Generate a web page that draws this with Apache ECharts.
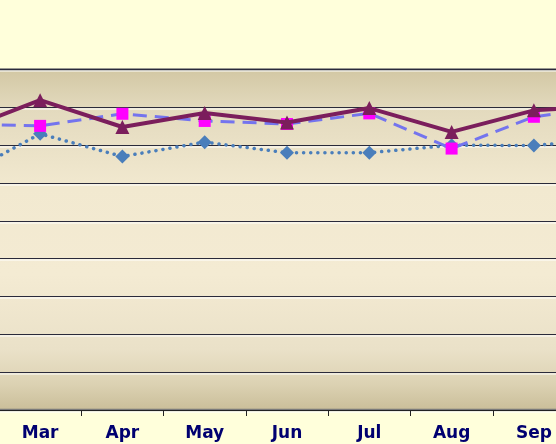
<!DOCTYPE html>
<html>
<head>
<meta charset="utf-8">
<script src="https://cdn.jsdelivr.net/npm/echarts@6/dist/echarts.min.js"></script>
<style>
html,body{margin:0;padding:0;background:#FFFFDB;}
#chart{width:556px;height:444px;}
</style>
</head>
<body>
<div id="chart"></div>
<script>
const months = ['Feb','Mar','Apr','May','Jun','Jul','Aug','Sep','Oct'];
const seriesA = [73.5, 81.9, 74.8, 78.5, 76.0, 79.8, 73.5, 79.2, 80.6];
const seriesB = [75.6, 75.1, 78.3, 76.4, 75.6, 78.4, 69.1, 77.5, 80.5];
const seriesC = [61.2, 73.0, 67.0, 70.8, 68.0, 68.0, 70.0, 69.9, 71.8];

const chart = echarts.init(document.getElementById('chart'), null, {renderer:'canvas'});
chart.setOption({
  backgroundColor: '#FFFFDB',
  animation: false,
  grid: {
    left: -83.35, right: -101.35, top: 69.5, bottom: 34,
    containLabel: false,
    outerBoundsMode: 'none',
    show: true,
    borderColor: '#7a7a7a',
    borderWidth: 2.5,
    backgroundColor: {
      type: 'linear', x: 0, y: 0, x2: 0, y2: 1,
      colorStops: [
        {offset: 0, color: '#D2C7A3'},
        {offset: 0.12, color: '#E3DABE'},
        {offset: 0.35, color: '#F2E9D0'},
        {offset: 0.6, color: '#F4EBD3'},
        {offset: 0.82, color: '#EAE1C8'},
        {offset: 0.92, color: '#DCD2B3'},
        {offset: 1, color: '#C9BD98'}
      ]
    }
  },
  xAxis: {
    type: 'category',
    data: months,
    boundaryGap: true,
    axisLine: {show: true, lineStyle: {color: '#222', width: 1}},
    axisTick: {show: true, alignWithLabel: false, length: 6, lineStyle: {color: '#222'}},
    axisLabel: {color: '#000070', fontWeight: 'bold', fontSize: 17, fontFamily: 'DejaVu Sans', margin: 15},
    splitLine: {show: false}
  },
  yAxis: {
    type: 'value',
    min: 0, max: 90, interval: 10,
    axisLine: {show: false},
    axisTick: {show: false},
    axisLabel: {show: false},
    splitLine: {show: true, lineStyle: {color: '#2a2a3a', width: 1, shadowColor: '#ffffff', shadowOffsetY: 1.5, shadowBlur: 0}}
  },
  series: [
    {
      name: 'C', type: 'line', data: seriesC,
      symbol: 'diamond', symbolSize: 14,
      lineStyle: {color: '#4A7EBB', width: 3.5, type: [0.1, 7], cap: 'round'},
      itemStyle: {color: '#4A7EBB'},
      z: 2
    },
    {
      name: 'B', type: 'line', data: seriesB,
      symbol: 'rect', symbolSize: 12,
      lineStyle: {color: '#7474EE', width: 3, type: [14, 8]},
      itemStyle: {color: '#FF00FF'},
      z: 3
    },
    {
      name: 'A', type: 'line', data: seriesA,
      symbol: 'triangle', symbolSize: 14,
      lineStyle: {color: '#7B1E5C', width: 4},
      itemStyle: {color: '#7B1E5C'},
      z: 4
    }
  ]
});
</script>
</body>
</html>
